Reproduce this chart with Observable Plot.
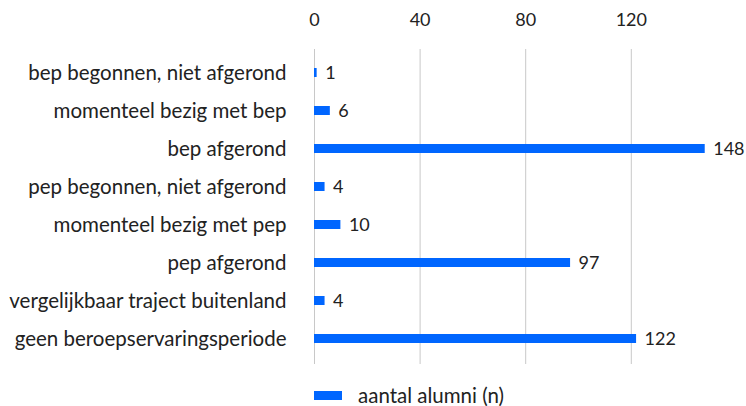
<!DOCTYPE html>
<html>
<head>
<meta charset="utf-8">
<script src="https://cdn.jsdelivr.net/npm/d3@7"></script>
<script src="https://cdn.jsdelivr.net/npm/@observablehq/plot@0.6"></script>
<style>
  html, body { margin: 0; padding: 0; background: #fff; }
  body { width: 746px; height: 406px; overflow: hidden; font-family: Lato, "Noto Sans", sans-serif; color: #222; }
  #legend { position: absolute; left: 314px; top: 382px; height: 26px; display: flex; align-items: center; font-size: 20.5px; }
  #legend .sw { width: 28px; height: 9px; background: #0066ff; margin-right: 16px; }
</style>
</head>
<body>
<div id="chart"></div>
<div id="legend"><span class="sw"></span><span id="legendText"></span></div>
<script>
const categories = [
  "bep begonnen, niet afgerond",
  "momenteel bezig met bep",
  "bep afgerond",
  "pep begonnen, niet afgerond",
  "momenteel bezig met pep",
  "pep afgerond",
  "vergelijkbaar traject buitenland",
  "geen beroepservaringsperiode"
];
const values = [1, 6, 148, 4, 10, 97, 4, 122];
const xTicks = [0, 40, 80, 120];
const seriesName = "aantal alumni (n)";

const data = categories.map((c, i) => ({category: c, value: values[i]}));
const blue = "#0066ff";
const fs = 20.5;
const fsNum = 18;

const chart = Plot.plot({
  width: 746,
  height: 380,
  marginLeft: 314,
  marginRight: 36,
  marginTop: 52,
  marginBottom: 20,
  style: {fontFamily: "Lato, 'Noto Sans', sans-serif", fontSize: fs + "px", color: "#222", background: "#fff"},
  x: {domain: [0, 150], axis: null},
  y: {domain: categories, paddingInner: 0.76, paddingOuter: 0.38, axis: null},
  marks: [
    Plot.ruleX(xTicks, {stroke: "#c8c8c8", strokeWidth: 1, strokeOpacity: 1, insetTop: -3, insetBottom: -4}),
    Plot.barX(data, {x: "value", y: "category", fill: blue}),
    Plot.text(data, {x: "value", y: "category", text: d => String(d.value), textAnchor: "start", dx: 8, fill: "#222", fontSize: fsNum}),
    Plot.axisX(xTicks, {anchor: "top", tickSize: 0, tickPadding: 27, fontSize: fsNum, fill: "#222", label: null}),
    Plot.axisY({anchor: "left", tickSize: 0, tickPadding: 28, fontSize: fs, fill: "#222", label: null})
  ]
});
document.getElementById("chart").appendChild(chart);
document.getElementById("legendText").textContent = seriesName;
</script>
</body>
</html>
